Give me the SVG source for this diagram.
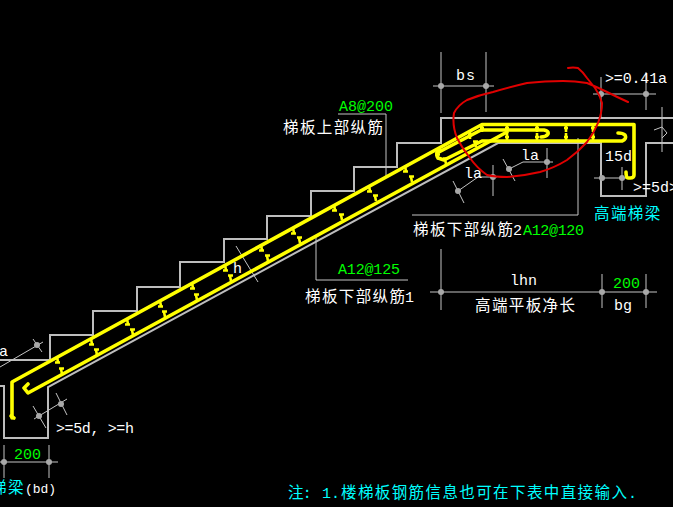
<svg xmlns="http://www.w3.org/2000/svg" width="673" height="507" viewBox="0 0 673 507">
<style>
.o{fill:none;stroke:#bdbdbd;stroke-width:2}
.t{fill:none;stroke:#c4c4c4;stroke-width:1}
.y{fill:none;stroke:#ff0;stroke-width:3.600;stroke-linejoin:round;stroke-linecap:round}
.k{fill:none;stroke:#ff0;stroke-width:2.600}
.d{fill:#a8a8a8}
.r{fill:none;stroke:#e00000;stroke-width:2;stroke-linejoin:round;stroke-linecap:round}
text{white-space:pre}
.m{font-family:"Liberation Mono","DejaVu Sans Mono",monospace;font-size:15px;fill:#fff}
.n{font-size:13px}
.c{font-family:"Noto Sans CJK SC","Noto Sans",sans-serif;font-size:15.5px;letter-spacing:1.4px;fill:#fff}
.g{fill:#0f0}
.b{fill:#0ff}
</style>
<defs>
<path id="ta" class="k" d="M0,0l1,5M-2,5.500h5"/>
<path id="tb" class="k" d="M0,0l-1,-5M-3,-5.500h5"/>
<path id="tv" class="k" d="M0,-4v8M-2,0h4"/>
<circle id="dot" class="d" r="3"/>
</defs>
<rect width="673" height="507" fill="#000"/>

<g id="structure">
<path class="o" d="M0,360H50V335H93V311H137V287H180V262H224V239H267V216H311V191H354V167H397V143H441V118H673"/>
<path class="o" d="M0,386H4V438H48V387L498,143H601V196H646V143H673"/>
<path class="t" d="M662,107V152M654,130L662,127L667,133L662,138"/>
</g>

<g id="connectors">
<path class="t" d="M338,114H386V177"/>
<path class="t" d="M316,237V280H408"/>
<path class="t" d="M578,138V215H412"/>
<path class="t" d="M236,246L258,282"/>
<path class="t" d="M433,86H494M441,52V113M486,52V112"/>
<path class="t" d="M593,94H656M601,77V118M646,72V110"/>
<path class="t" d="M594,178H628M622,167V190"/>
<path class="t" d="M509,169L523,162H553M547,148V178M503,159L515,181"/>
<path class="t" d="M458,191L478,177H497M493,165V196M453,181L464,203"/>
<path class="t" d="M430,292H657M441,249V310M602,274V308M646,274V308"/>
<path class="t" d="M0,462H58M4,445V478M49,445V478"/>
<path class="t" d="M34,419L67,399M33,406L46,428M56,393L67,415"/>
<path class="t" d="M0,367L43,342M33,339L42,352"/>
</g>

<g id="rebar">
<path class="y" d="M12,418V382L482,124.500H634V175Q634,178 630,178H628Q626,178 626,172"/>
<path class="y" d="M437,153L481,130H544Q549,131 548,134Q546,137 541,137"/>
<path class="y" d="M438,158Q435,153 440,150M438,158L444,160L482,141H622Q627,139 625,135Q623,133 618,133"/>
<path class="y" d="M28,384L24,388L28,393L507,132"/>
<path class="y" d="M14,418L11,416"/>
<g id="ticks">
<use href="#ta" x="57" y="357"/><use href="#ta" x="91" y="339"/><use href="#ta" x="127" y="319"/><use href="#ta" x="160" y="301"/><use href="#ta" x="192" y="283"/><use href="#ta" x="225" y="265"/><use href="#ta" x="261" y="245"/><use href="#ta" x="293" y="228"/><use href="#ta" x="334" y="205"/><use href="#ta" x="369" y="186"/><use href="#ta" x="405" y="166"/><use href="#ta" x="437" y="149"/>
<use href="#tb" x="62" y="374"/><use href="#tb" x="97" y="355"/><use href="#tb" x="133" y="335"/><use href="#tb" x="165" y="317"/><use href="#tb" x="197" y="300"/><use href="#tb" x="231" y="281"/><use href="#tb" x="268" y="261"/><use href="#tb" x="300" y="243"/><use href="#tb" x="342" y="220"/><use href="#tb" x="376" y="201"/><use href="#tb" x="412" y="182"/><use href="#tb" x="446" y="164"/><use href="#tb" x="476" y="147"/>
<use href="#tv" x="470" y="135"/><use href="#tv" x="482" y="128"/>
<use href="#tv" x="507" y="128"/><use href="#tv" x="507" y="137"/><use href="#tv" x="537" y="128"/><use href="#tv" x="537" y="137"/><use href="#tv" x="566" y="128"/><use href="#tv" x="566" y="137"/><use href="#tv" x="593" y="128"/><use href="#tv" x="593" y="137"/>
</g>
</g>

<g id="dots">
<use href="#dot" x="441" y="86"/><use href="#dot" x="486" y="86"/><use href="#dot" x="601" y="94"/><use href="#dot" x="646" y="94"/><use href="#dot" x="602" y="178"/><use href="#dot" x="622" y="178"/><use href="#dot" x="509" y="169"/><use href="#dot" x="547" y="162"/><use href="#dot" x="458" y="191"/><use href="#dot" x="493" y="177"/><use href="#dot" x="441" y="292"/><use href="#dot" x="602" y="292"/><use href="#dot" x="646" y="292"/><use href="#dot" x="4" y="462"/><use href="#dot" x="49" y="462"/><use href="#dot" x="39" y="416"/><use href="#dot" x="61" y="404"/><use href="#dot" x="37" y="345"/>
</g>

<g id="labels">
<text class="m g" x="339" y="111" textLength="54">A8@200</text>
<text class="c" x="283" y="133">梯板上部纵筋</text>
<text class="m" x="456" y="80" textLength="19">bs</text>
<text class="m" x="605" y="83" textLength="62">&gt;=0.41a</text>
<text class="m" x="521" y="160" textLength="18">la</text>
<text class="m" x="464" y="178" textLength="18">la</text>
<text class="m" x="605" y="161" textLength="27">15d</text>
<text class="m" x="633" y="192" textLength="45">&gt;=5d&gt;</text>
<text class="c b" x="594" y="219">高端梯梁</text>
<text class="c" x="413" y="235">梯板下部纵筋</text><text class="m" x="513" y="235">2</text>
<text class="m g" x="523" y="235" textLength="61">A12@120</text>
<text class="m g" x="338" y="274" textLength="62">A12@125</text>
<text class="c" x="305" y="302">梯板下部纵筋</text><text class="m" x="405" y="302">1</text>
<text class="m" x="233" y="273">h</text>
<text class="m" x="510" y="285" textLength="27">lhn</text>
<text class="m g" x="613" y="288" textLength="27">200</text>
<text class="c" x="475" y="311">高端平板净长</text>
<text class="m" x="614" y="310" textLength="18">bg</text>
<text class="m" x="-1" y="356">a</text>
<text class="m" x="56" y="433" textLength="78">&gt;=5d, &gt;=h</text>
<text class="m g" x="14" y="459" textLength="27">200</text>
<text class="c b" x="-9" y="493">梯梁</text>
<text class="m n" x="25" y="493" textLength="31">(bd)</text>
<text class="c b" x="288" y="498">注:</text>
<text class="m b" x="322" y="498" textLength="18">1.</text>
<text class="c b" x="341" y="498">楼梯板钢筋信息也可在下表中直接输入</text>
<text class="m b" x="628" y="498">.</text>
</g>

<path id="red-mark" class="r" d="M568,68Q573,67 578,68Q583,72 587,78Q591,83 595,88Q600,95 602,103Q602,113 598,123Q594,133 587,142Q578,152 567,160Q554,168 540,172Q523,176 507,177Q495,177 487,175Q477,168 470,158Q462,148 457,138Q452,125 454,113Q458,105 467,100Q479,95 493,92Q510,87 527,83Q545,81 563,81Q575,81 587,83Q597,87 607,92Q617,97 628,102"/>
</svg>
